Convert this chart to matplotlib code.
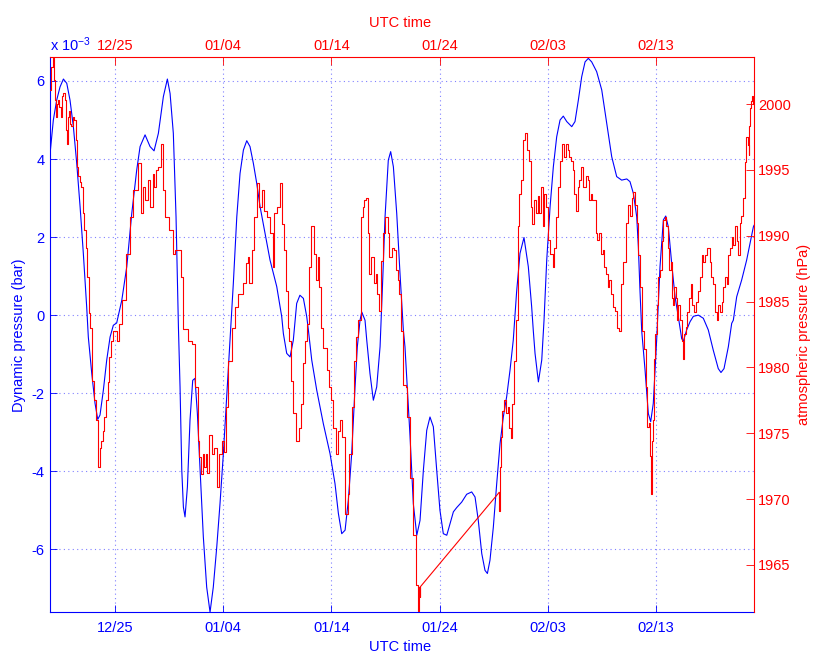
import numpy as np
import matplotlib
matplotlib.use('Agg')
import matplotlib.pyplot as plt
import matplotlib.dates as mdates

plt.rcParams['font.family'] = ['Liberation Sans', 'DejaVu Sans']
plt.rcParams['mathtext.fontset'] = 'custom'
plt.rcParams['mathtext.rm'] = 'Liberation Sans'
plt.rcParams['mathtext.it'] = 'Liberation Sans'

# days relative to 12/25 00:00 UTC
t0 = mdates.date2num(np.datetime64('2009-12-25'))

# dynamic pressure, units of 1e-3 bar
dyn_days = [-5.95, -5.67, -5.36, -5.05, -4.74, -4.43, -4.13, -3.82, -3.51, -3.2,
            -2.9, -2.59, -2.44, -2.12, -1.82, -1.57, -1.36, -1.05, -0.74, -0.43,
            -0.13, 0.18, 0.65, 1.11, 1.57, 2.03, 2.34, 2.8, 3.26, 3.63,
            4.03, 4.49, 4.86, 5.11, 5.41, 5.66, 5.88, 6.03, 6.19, 6.34,
            6.49, 6.71, 6.95, 7.2, 7.41, 7.63, 7.88, 8.18, 8.49, 8.8,
            9.1, 9.42, 9.72, 10.03, 10.34, 10.65, 10.95, 11.27, 11.57, 11.88,
            12.19, 12.49, 12.8, 13.11, 13.42, 13.88, 14.34, 14.96, 15.42, 15.57,
            15.88, 16.19, 16.49, 16.8, 17.1, 17.42, 17.73, 17.88, 18.19, 18.65,
            19.26, 19.88, 20.34, 20.65, 20.96, 21.27, 21.57, 21.88, 22.19, 22.4,
            22.65, 22.81, 23.11, 23.27, 23.57, 23.88, 24.19, 24.5, 24.73, 24.96,
            25.26, 25.48, 25.73, 26.04, 26.34, 26.65, 26.8, 27.27, 27.57, 27.89,
            28.19, 28.5, 28.81, 29.11, 29.42, 29.73, 30.03, 30.34, 30.66, 30.96,
            31.27, 31.58, 32.04, 32.5, 32.96, 33.27, 33.57, 33.89, 34.19, 34.41,
            34.65, 34.96, 35.27, 35.58, 35.88, 36.19, 36.5, 36.8, 37.11, 37.42,
            37.79, 38.19, 38.5, 38.65, 38.81, 39.12, 39.43, 39.64, 39.89, 40.2,
            40.5, 40.81, 41.12, 41.42, 41.74, 42.2, 42.5, 42.81, 43.12, 43.43,
            43.73, 44.04, 44.5, 44.97, 45.43, 45.89, 46.35, 46.81, 47.28, 47.58,
            47.89, 48.2, 48.35, 48.5, 48.66, 48.97, 49.27, 49.49, 49.73, 50.04,
            50.35, 50.66, 50.88, 51.12, 51.43, 51.74, 52.04, 52.35, 52.5, 52.81,
            53.12, 53.43, 53.89, 54.35, 54.81, 55.27, 55.73, 55.98, 56.26, 56.66,
            56.97, 57.12, 57.43, 57.89, 58.35, 58.66, 58.97, 59.03]
dyn_vals = [4.2, 5.0, 5.51, 5.85, 6.05, 5.94, 5.51, 4.83, 3.89, 2.78,
            1.58, 0.21, -0.56, -1.5, -2.26, -2.67, -2.56, -1.92, -1.15, -0.56,
            -0.26, -0.2, 0.38, 1.24, 2.6, 3.72, 4.32, 4.62, 4.32, 4.21,
            4.66, 5.6, 6.05, 5.68, 4.66, 2.52, -0.3, -1.84, -3.97, -4.92,
            -5.17, -4.4, -2.69, -1.67, -1.62, -2.52, -3.97, -5.68, -6.97, -7.61,
            -6.97, -5.94, -4.83, -3.55, -2.09, -0.64, 0.81, 2.52, 3.63, 4.23,
            4.47, 4.32, 3.89, 3.38, 2.78, 2.09, 1.41, 0.73, -0.04, -0.47,
            -0.98, -1.07, -0.64, 0.3, 0.51, 0.43, -0.04, -0.38, -1.15, -1.92,
            -2.78, -3.55, -4.32, -5.08, -5.6, -5.51, -4.74, -3.55, -1.84, -0.81,
            -0.13, 0.08, -0.13, -0.64, -1.5, -2.18, -1.84, -0.81, 0.8, 2.52,
            3.97, 4.19, 3.8, 2.6, 1.07, -0.38, -0.81, -3.12, -4.83, -5.64,
            -5.26, -3.97, -2.95, -2.61, -2.86, -3.97, -5.0, -5.6, -5.64, -5.34,
            -5.04, -4.93, -4.79, -4.59, -4.53, -4.66, -5.26, -6.11, -6.54, -6.62,
            -6.28, -5.43, -4.32, -3.29, -2.61, -2.09, -1.41, -0.64, 0.6, 1.58,
            1.99, 1.24, 0.21, -0.4, -0.98, -1.71, -1.15, -0.13, 1.41, 2.78,
            3.8, 4.57, 5.0, 5.1, 4.96, 4.83, 4.96, 5.51, 6.11, 6.49,
            6.58, 6.49, 6.24, 5.77, 4.92, 4.06, 3.55, 3.46, 3.49, 3.42,
            3.12, 2.52, 1.75, 0.64, -0.4, -1.41, -2.52, -2.73, -2.26, -0.64,
            1.24, 2.44, 2.54, 2.26, 1.32, 0.47, -0.04, -0.6, -0.67, -0.38,
            -0.17, -0.03, 0.0, -0.08, -0.38, -0.9, -1.37, -1.47, -1.37, -0.81,
            -0.21, -0.13, 0.47, 0.9, 1.41, 1.84, 2.26, 2.3]

# atmospheric pressure, hPa (no samples between 28.18 and 35.49 days)
atm_days = [-5.95, -5.82, -5.67, -5.58, -5.51, -5.36, -5.28, -5.2, -5.05, -4.96,
            -4.8, -4.68, -4.59, -4.43, -4.34, -4.28, -4.19, -4.06, -3.94, -3.82,
            -3.67, -3.57, -3.45, -3.3, -3.14, -3.02, -2.9, -2.71, -2.59, -2.47,
            -2.35, -2.28, -1.97, -1.82, -1.6, -1.45, -1.36, -1.2, -1.05, -0.9,
            -0.74, -0.59, -0.43, -0.28, 0.03, 0.33, 0.49, 0.79, 1.26, 1.57,
            1.87, 2.34, 2.49, 2.64, 2.95, 3.10, 3.42, 3.56, 3.72, 3.88,
            4.18, 4.34, 4.49, 4.80, 5.26, 5.41, 5.72, 6.03, 6.19, 6.49,
            6.95, 7.26, 7.57, 7.72, 7.88, 8.03, 8.18, 8.33, 8.49, 8.64,
            8.8, 9.1, 9.3, 9.57, 9.72, 10.03, 10.18, 10.34, 10.65, 10.95,
            11.27, 11.57, 12.03, 12.19, 12.34, 12.49, 12.8, 12.95, 13.26, 13.42,
            13.72, 13.88, 14.18, 14.5, 14.65, 14.8, 15.1, 15.36, 15.51, 15.72,
            15.88, 16.03, 16.19, 16.34, 16.65, 16.9, 17.1, 17.27, 17.48, 17.66,
            17.78, 18.03, 18.28, 18.5, 18.65, 18.8, 18.96, 19.11, 19.42, 19.72,
            19.88, 20.04, 20.28, 20.5, 20.65, 20.87, 21.11, 21.42, 21.57, 21.73,
            22.03, 22.19, 22.4, 22.59, 22.81, 22.95, 23.11, 23.27, 23.42, 23.57,
            23.82, 24.03, 24.18, 24.34, 24.5, 24.65, 24.8, 25.12, 25.26, 25.48,
            25.73, 25.88, 26.04, 26.19, 26.34, 26.5, 26.8, 26.95, 27.1, 27.42,
            27.73, 27.89, 28.06, 28.13, 28.16, 28.18, 35.49, 35.5, 35.58, 35.73,
            35.88, 36.04, 36.19, 36.35, 36.5, 36.65, 36.8, 36.96, 37.12, 37.27,
            37.42, 37.58, 37.79, 37.95, 38.1, 38.35, 38.5, 38.6, 38.81, 38.96,
            39.12, 39.27, 39.43, 39.58, 39.73, 39.89, 40.1, 40.35, 40.5, 40.66,
            40.81, 41.05, 41.27, 41.42, 41.58, 41.74, 41.89, 42.04, 42.2, 42.35,
            42.5, 42.66, 42.81, 42.96, 43.21, 43.36, 43.58, 43.73, 43.89, 44.04,
            44.19, 44.35, 44.5, 44.65, 44.81, 44.97, 45.12, 45.27, 45.43, 45.58,
            45.74, 45.89, 46.04, 46.29, 46.5, 46.66, 46.8, 47.1, 47.27, 47.48,
            47.64, 47.8, 47.95, 48.1, 48.28, 48.41, 48.6, 48.81, 48.96, 49.12,
            49.27, 49.42, 49.52, 49.58, 49.67, 49.76, 49.88, 49.98, 50.13, 50.25,
            50.44, 50.56, 50.72, 50.87, 50.99, 51.12, 51.27, 51.42, 51.52, 51.62,
            51.73, 51.85, 51.98, 52.13, 52.28, 52.41, 52.56, 52.65, 52.81, 52.96,
            53.12, 53.27, 53.42, 53.58, 53.73, 53.95, 54.13, 54.28, 54.44, 54.59,
            54.75, 54.9, 55.02, 55.18, 55.36, 55.52, 55.67, 55.82, 55.98, 56.13,
            56.28, 56.44, 56.59, 56.75, 56.9, 57.05, 57.21, 57.36, 57.52, 57.64,
            57.79, 57.95, 58.1, 58.25, 58.38, 58.5, 58.56, 58.65, 58.75, 58.84,
            58.93, 59.02]
atm_hpa = [2001.1, 2002.8, 2003.5, 2001.8, 2000.3, 1999.0, 2000.0, 2000.3, 1999.8, 1999.0,
           2000.6, 2000.8, 2000.3, 1998.0, 1997.0, 1999.0, 1999.5, 1998.5, 1998.3, 1999.0,
           1998.8, 1997.3, 1995.2, 1994.5, 1994.1, 1993.7, 1991.7, 1990.4, 1989.1, 1986.9,
           1984.1, 1983.0, 1979.0, 1977.5, 1976.0, 1972.4, 1973.9, 1974.4, 1975.2, 1976.2,
           1977.5, 1978.9, 1980.8, 1982.0, 1982.8, 1982.0, 1983.3, 1985.1, 1988.6, 1991.4,
           1993.5, 1995.5, 1991.7, 1993.7, 1992.7, 1994.2, 1992.2, 1994.7, 1993.7, 1995.0,
           1995.2, 1997.0, 1993.5, 1991.4, 1990.4, 1988.6, 1988.9, 1988.9, 1986.9, 1982.9,
           1982.0, 1981.8, 1978.5, 1974.4, 1973.2, 1971.9, 1973.4, 1972.4, 1973.4, 1972.0,
           1974.9, 1973.4, 1973.9, 1970.9, 1973.4, 1974.4, 1973.6, 1977.0, 1980.5, 1983.0,
           1984.6, 1985.6, 1986.4, 1987.9, 1988.4, 1986.4, 1988.9, 1991.4, 1994.0, 1992.2,
           1993.5, 1991.9, 1991.4, 1990.2, 1987.6, 1991.7, 1992.2, 1994.0, 1990.9, 1988.9,
           1985.8, 1983.0, 1982.0, 1979.0, 1976.5, 1974.4, 1975.4, 1977.2, 1980.3, 1982.0,
           1983.3, 1987.6, 1990.7, 1988.6, 1986.6, 1988.4, 1986.1, 1983.0, 1981.5, 1979.8,
           1978.5, 1977.5, 1975.4, 1973.4, 1975.2, 1976.0, 1974.7, 1968.9, 1970.4, 1973.4,
           1977.0, 1980.5, 1982.3, 1983.6, 1991.4, 1992.2, 1992.7, 1992.9, 1990.2, 1987.1,
           1988.4, 1986.4, 1987.1, 1985.6, 1984.3, 1988.1, 1990.2, 1991.4, 1990.2, 1988.4,
           1989.1, 1988.9, 1987.4, 1986.6, 1985.6, 1982.8, 1978.7, 1978.5, 1976.2, 1971.6,
           1967.3, 1963.5, 1961.5, 1963.3, 1962.6, 1963.3, 1970.5, 1969.1, 1972.4, 1974.7,
           1976.7, 1977.5, 1976.5, 1977.0, 1975.4, 1974.6, 1977.2, 1980.5, 1983.6, 1990.7,
           1993.2, 1994.2, 1997.3, 1997.8, 1996.5, 1995.7, 1992.2, 1990.9, 1992.7, 1991.7,
           1993.0, 1991.7, 1993.7, 1990.7, 1993.2, 1992.2, 1989.7, 1988.6, 1987.6, 1989.1,
           1991.4, 1993.7, 1995.7, 1997.0, 1996.0, 1997.0, 1996.5, 1996.0, 1995.7, 1995.0,
           1993.2, 1991.9, 1993.7, 1994.2, 1995.2, 1993.7, 1994.5, 1994.2, 1992.7, 1993.2,
           1992.7, 1992.7, 1990.2, 1989.7, 1990.2, 1988.6, 1988.9, 1987.6, 1987.1, 1986.1,
           1986.6, 1985.6, 1984.6, 1984.3, 1983.0, 1982.8, 1986.3, 1988.0, 1991.0, 1992.3,
           1991.5, 1992.9, 1993.3, 1992.3, 1991.0, 1988.5, 1986.1, 1982.8, 1981.4, 1978.5,
           1975.5, 1975.8, 1973.3, 1970.4, 1974.4, 1976.0, 1980.6, 1982.5, 1984.7, 1986.9,
           1987.4, 1989.6, 1991.2, 1991.4, 1990.7, 1989.1, 1987.4, 1988.0, 1985.3, 1984.7,
           1986.1, 1985.3, 1983.6, 1984.7, 1983.6, 1982.0, 1980.6, 1982.5, 1983.1, 1984.2,
           1985.3, 1986.3, 1984.7, 1984.2, 1985.0, 1985.8, 1986.9, 1988.5, 1988.0, 1988.5,
           1989.1, 1989.1, 1988.0, 1986.9, 1986.3, 1984.2, 1983.6, 1984.7, 1984.2, 1985.0,
           1986.1, 1986.9, 1986.3, 1988.5, 1989.1, 1989.9, 1989.3, 1990.7, 1989.6, 1988.5,
           1991.0, 1991.5, 1992.9, 1995.6, 1997.5, 1996.9, 1996.1, 1998.3, 1999.7, 2000.2,
           2000.6, 2000.0]

tick_days = [0, 10, 20, 30, 40, 50]
dyn_ticks = [-6, -4, -2, 0, 2, 4, 6]
atm_ticks = [1965, 1970, 1975, 1980, 1985, 1990, 1995, 2000]

blue = '#0000ff'
red = '#ff0000'
grid_col = '#8080ff'

fig = plt.figure(figsize=(8.14, 6.53), dpi=100)
ax1 = fig.add_axes([0.0618, 0.0623, 0.8645, 0.8500])
ax2 = ax1.twinx()

ax1.plot(t0 + np.array(dyn_days), dyn_vals, color=blue, lw=0.8)

# barometer record: stair-stepped where sampled, straight line over the gap
atm_t = t0 + np.array(atm_days)
atm_p = np.array(atm_hpa)
gap = int(np.argmax(np.diff(atm_days))) + 1
ax2.plot(atm_t[:gap], atm_p[:gap], color=red, lw=0.8, drawstyle='steps-mid')
ax2.plot(atm_t[gap - 1:gap + 1], atm_p[gap - 1:gap + 1], color=red, lw=0.8)
ax2.plot(atm_t[gap:], atm_p[gap:], color=red, lw=0.8, drawstyle='steps-mid')

ax1.set_xlim(t0 - 5.95, t0 + 59.03)
ax1.set_ylim(-7.615, 6.608)
ax2.set_ylim(1961.4, 2003.55)

ax1.xaxis.set_major_locator(plt.FixedLocator([t0 + d for d in tick_days]))
ax1.xaxis.set_major_formatter(mdates.DateFormatter('%m/%d'))
ax1.set_yticks(dyn_ticks)
ax1.set_yticklabels([str(v) for v in dyn_ticks])
ax2.set_yticks(atm_ticks)

# blue axes: left + bottom, dotted grid
for side in ['top', 'right']:
    ax1.spines[side].set_visible(False)
for side in ['left', 'bottom']:
    ax1.spines[side].set_color(blue)
    ax1.spines[side].set_linewidth(0.8)
ax1.tick_params(axis='both', direction='in', colors=blue, length=5, width=0.6,
                labelsize=10.5)
ax1.tick_params(axis='x', pad=6)
ax1.tick_params(axis='y', pad=4)
ax1.grid(True, color=grid_col, linestyle=(0, (1, 3)), linewidth=0.8)

# red axes: top + right
for side in ['left', 'bottom']:
    ax2.spines[side].set_visible(False)
for side in ['top', 'right']:
    ax2.spines[side].set_color(red)
    ax2.spines[side].set_linewidth(0.8)
ax2.xaxis.set_visible(True)
ax2.xaxis.tick_top()
ax2.xaxis.set_label_position('top')
ax2.tick_params(axis='both', direction='in', colors=red, length=6, width=0.6,
                labelsize=10.5, pad=3)
ax2.tick_params(axis='x', bottom=False, labelbottom=False)

ax1.set_xlabel('UTC time', color=blue, fontsize=10.5)
ax1.set_ylabel('Dynamic pressure (bar)', color=blue, fontsize=10.5)
ax2.set_xlabel('UTC time', color=red, fontsize=10.5)
ax2.set_ylabel('atmospheric pressure (hPa)', color=red, fontsize=10.5)
ax1.xaxis.set_label_coords(0.497, -0.05)
ax1.yaxis.set_label_coords(-0.035, 0.5)
ax2.xaxis.set_label_coords(0.497, 1.054)
ax2.yaxis.set_label_coords(1.061, 0.5)

ax1.text(0.0, 1.006, r'x 10$^{-3}$', transform=ax1.transAxes, ha='left',
         va='bottom', color=blue, fontsize=10.5)

fig.savefig('out.png', dpi=100)
